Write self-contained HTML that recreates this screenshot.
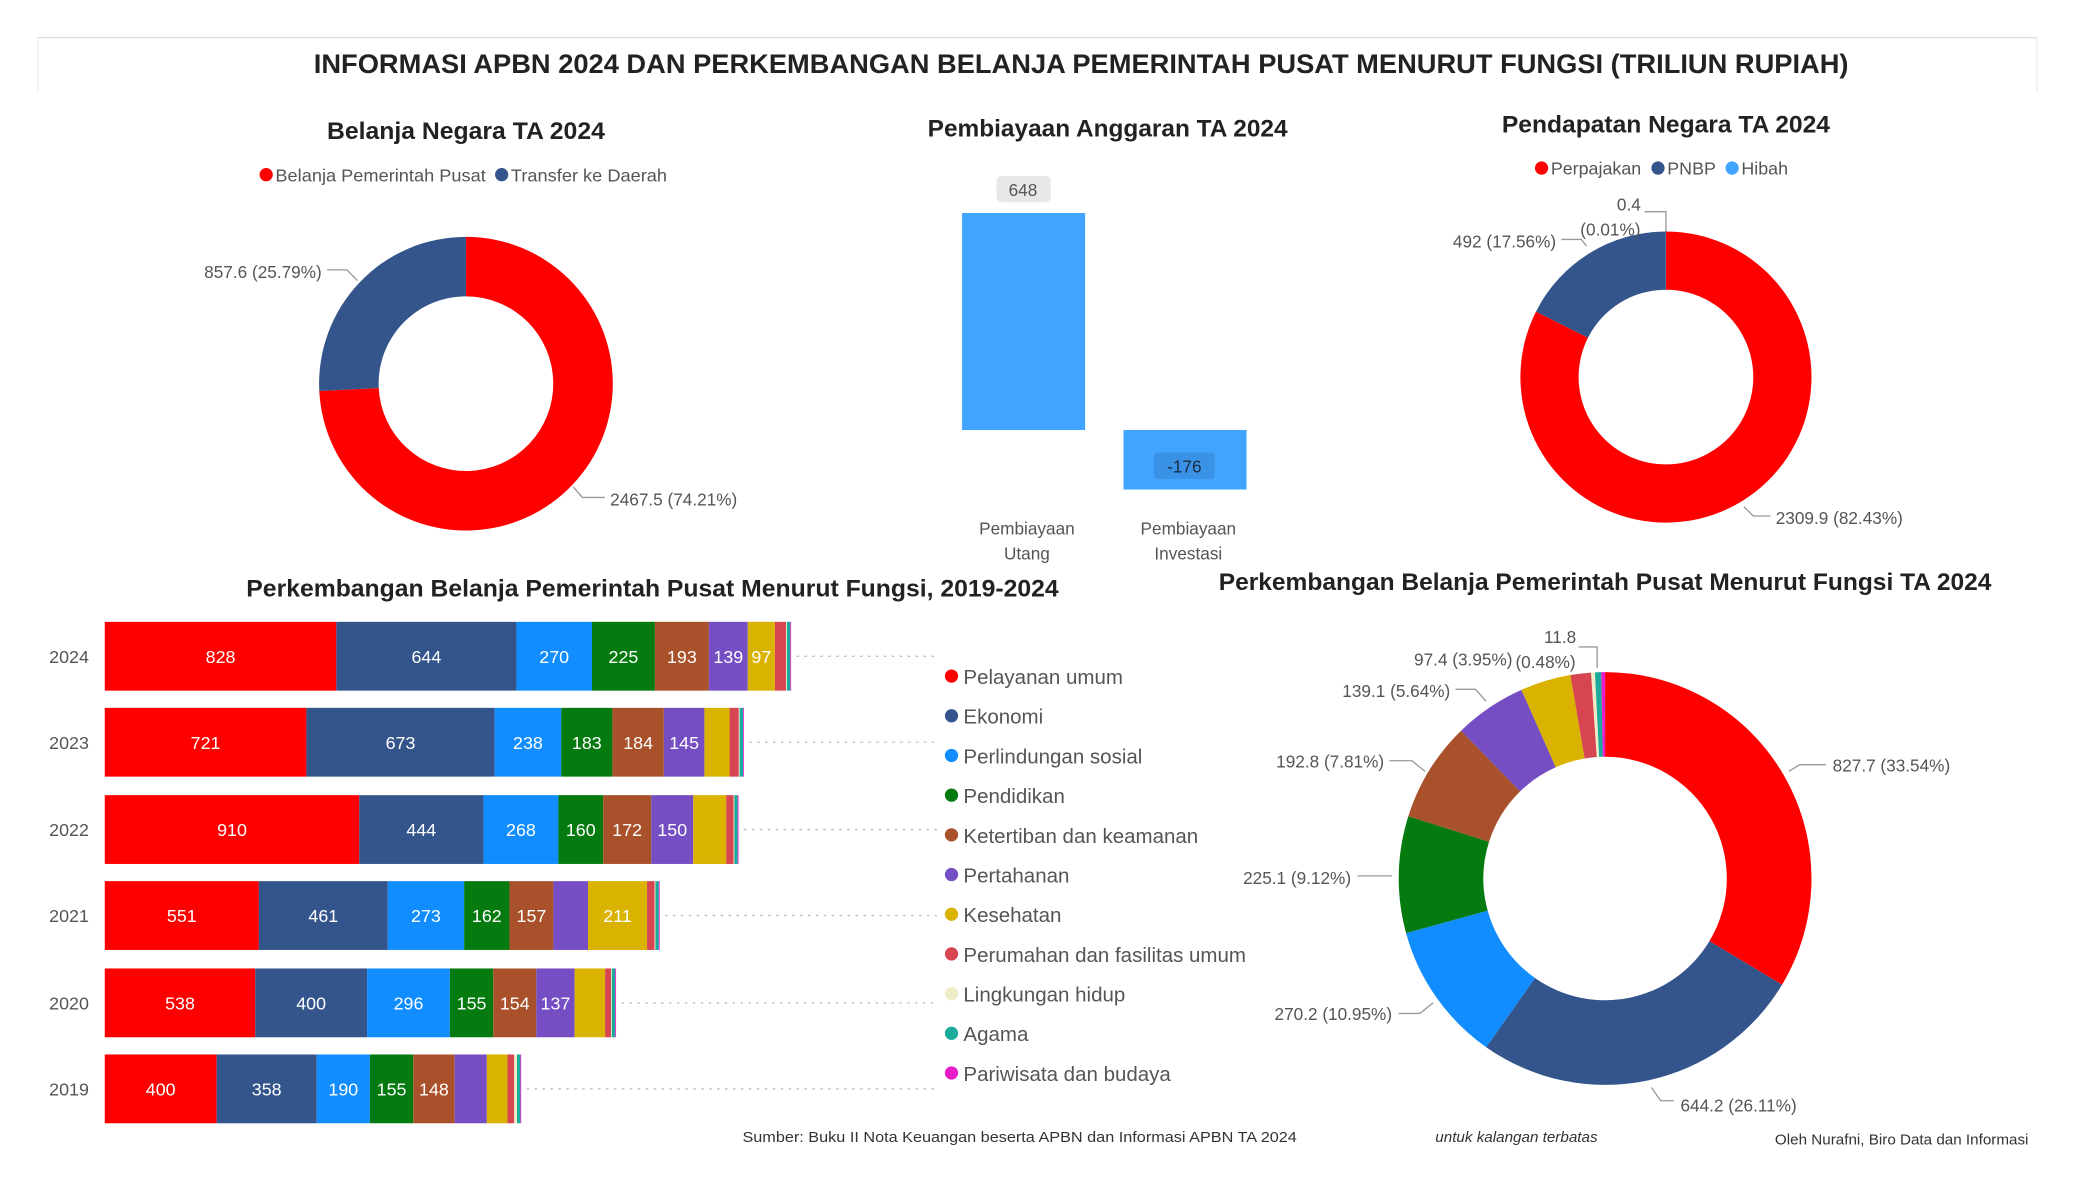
<!DOCTYPE html>
<html><head><meta charset="utf-8"><style>
html,body{margin:0;padding:0;background:#fff;}
svg{display:block;}
text{font-family:"Liberation Sans Narrow","Liberation Sans",sans-serif;}
.t{font-weight:bold;fill:#222;}
.g{fill:#555;}
</style></head><body>
<svg id="s" width="2075" height="1200" viewBox="0 0 1568 907" xmlns="http://www.w3.org/2000/svg">
<line x1="28" y1="28.5" x2="1540" y2="28.5" stroke="#ddd"/>
<line x1="28.5" y1="28" x2="28.5" y2="70" stroke="#eee"/>
<line x1="1539.5" y1="28" x2="1539.5" y2="70" stroke="#eee"/>
<text class="t" x="817" y="55" text-anchor="middle" font-size="20" textLength="1160" lengthAdjust="spacingAndGlyphs">INFORMASI APBN 2024 DAN PERKEMBANGAN BELANJA PEMERINTAH PUSAT MENURUT FUNGSI (TRILIUN RUPIAH)</text>

<text class="t" x="352" y="105" text-anchor="middle" font-size="18" textLength="210" lengthAdjust="spacingAndGlyphs">Belanja Negara TA 2024</text>
<circle cx="201" cy="132" r="5" fill="#f00"/><text class="g" x="208" y="137" font-size="13.5" textLength="159" lengthAdjust="spacingAndGlyphs">Belanja Pemerintah Pusat</text>
<circle cx="379" cy="132" r="5" fill="#34558b"/><text class="g" x="386" y="137" font-size="13.5" textLength="118" lengthAdjust="spacingAndGlyphs">Transfer ke Daerah</text>
<g id="d1"></g>
<polyline points="247,204 262,204 270,212" fill="none" stroke="#999"/>
<text class="g" x="243" y="210" text-anchor="end" font-size="13">857.6 (25.79%)</text>
<polyline points="433,368 440,376 457,376" fill="none" stroke="#999"/>
<text class="g" x="461" y="382" font-size="13">2467.5 (74.21%)</text>

<text class="t" x="837" y="103" text-anchor="middle" font-size="18" textLength="272" lengthAdjust="spacingAndGlyphs">Pembiayaan Anggaran TA 2024</text>
<rect x="753" y="133" width="41" height="20" rx="4" fill="#e8e8e8"/>
<text class="g" x="773" y="148" text-anchor="middle" font-size="13">648</text>
<rect x="727" y="161" width="93" height="164" fill="#41a4ff"/>
<rect x="849" y="325" width="93" height="45" fill="#41a4ff"/>
<rect x="872" y="342" width="46" height="20" rx="3" fill="#3a92e6"/>
<text x="895" y="357" text-anchor="middle" font-size="13" fill="#1a2a40">-176</text>
<text class="g" x="776" y="404" text-anchor="middle" font-size="13">Pembiayaan</text>
<text class="g" x="776" y="423" text-anchor="middle" font-size="13">Utang</text>
<text class="g" x="898" y="404" text-anchor="middle" font-size="13">Pembiayaan</text>
<text class="g" x="898" y="423" text-anchor="middle" font-size="13">Investasi</text>

<text class="t" x="1259" y="100" text-anchor="middle" font-size="18" textLength="248" lengthAdjust="spacingAndGlyphs">Pendapatan Negara TA 2024</text>
<circle cx="1165" cy="127" r="5" fill="#f00"/><text class="g" x="1172" y="132" font-size="13.5">Perpajakan</text>
<circle cx="1253" cy="127" r="5" fill="#34558b"/><text class="g" x="1260" y="132" font-size="13.5">PNBP</text>
<circle cx="1309" cy="127" r="5" fill="#41a4ff"/><text class="g" x="1316" y="132" font-size="13.5">Hibah</text>
<g id="d3"></g>
<polyline points="1243,160 1259,160 1259,175" fill="none" stroke="#999"/>
<text class="g" x="1231" y="159" text-anchor="middle" font-size="13">0.4</text>
<text class="g" x="1217" y="178" text-anchor="middle" font-size="13">(0.01%)</text>
<polyline points="1180,181 1195,181 1199,186" fill="none" stroke="#999"/>
<text class="g" x="1176" y="187" text-anchor="end" font-size="13">492 (17.56%)</text>
<polyline points="1318,383 1325,390 1338,390" fill="none" stroke="#999"/>
<text class="g" x="1342" y="396" font-size="13">2309.9 (82.43%)</text>

<text class="t" x="493" y="451" text-anchor="middle" font-size="18" textLength="614" lengthAdjust="spacingAndGlyphs">Perkembangan Belanja Pemerintah Pusat Menurut Fungsi, 2019-2024</text>
<g id="bars"></g>
<g id="leg"></g>

<text class="t" x="1213" y="446" text-anchor="middle" font-size="18" textLength="584" lengthAdjust="spacingAndGlyphs">Perkembangan Belanja Pemerintah Pusat Menurut Fungsi TA 2024</text>
<g id="d4"></g>
<g fill="none" stroke="#999">
<polyline points="1352,583 1360,578 1380,578"/>
<polyline points="1248,822 1255,832 1265,832"/>
<polyline points="1057,766 1073,766 1083,758"/>
<polyline points="1026,662 1052,662"/>
<polyline points="1050,575 1067,575 1077,583"/>
<polyline points="1100,521 1115,521 1123,530"/>
<polyline points="1193,489 1207,489 1207,505"/>
</g>
<g font-size="13">
<text x="1385" y="583" class="g">827.7 (33.54%)</text>
<text x="1270" y="840" class="g">644.2 (26.11%)</text>
<text x="1052" y="771" text-anchor="end" class="g">270.2 (10.95%)</text>
<text x="1021" y="668" text-anchor="end" class="g">225.1 (9.12%)</text>
<text x="1046" y="580" text-anchor="end" class="g">192.8 (7.81%)</text>
<text x="1096" y="527" text-anchor="end" class="g">139.1 (5.64%)</text>
<text x="1143" y="503" text-anchor="end" class="g">97.4 (3.95%)</text>
<text x="1168" y="505" text-anchor="middle" class="g">(0.48%)</text>
<text x="1179" y="486" text-anchor="middle" class="g">11.8</text>
</g>

<text x="561" y="863" font-size="11.5" fill="#333" textLength="419" lengthAdjust="spacingAndGlyphs">Sumber: Buku II Nota Keuangan beserta APBN dan Informasi APBN TA 2024</text>
<text x="1146" y="863" font-size="11.5" fill="#333" text-anchor="middle" font-style="italic">untuk kalangan terbatas</text>
<text x="1533" y="865" font-size="11.5" fill="#333" text-anchor="end">Oleh Nurafni, Biro Data dan Informasi</text>
</svg>
<script>
var NS="http://www.w3.org/2000/svg";
function el(p,t,a){var e=document.createElementNS(NS,t);for(var k in a)e.setAttribute(k,a[k]);p.appendChild(e);return e;}
function donut(id,cx,cy,R,r,vals,cols){
 var g=document.getElementById(id),tot=vals.reduce(function(a,b){return a+b},0),a0=0;
 vals.forEach(function(v,i){
  var a1=a0+v/tot*2*Math.PI,lg=(a1-a0)>Math.PI?1:0;
  function P(rr,a){return (cx+rr*Math.sin(a)).toFixed(2)+","+(cy-rr*Math.cos(a)).toFixed(2);}
  var d="M"+P(R,a0)+"A"+R+","+R+" 0 "+lg+" 1 "+P(R,a1)+"L"+P(r,a1)+"A"+r+","+r+" 0 "+lg+" 0 "+P(r,a0)+"Z";
  el(g,"path",{d:d,fill:cols[i]});a0=a1;});
}
donut("d1",352,290,111,66,[74.21,25.79],["#ff0000","#34558b"]);
donut("d3",1259,285,110,66,[82.43,17.56,0.01],["#ff0000","#34558b","#41a4ff"]);
var C=["#ff0000","#34558b","#118dff","#057a0e","#a9512a","#744ec2","#d9b300","#d64550","#efedc8","#1aab9c","#e61dc9"];
donut("d4",1213,664,156,92,[33.54,26.11,10.95,9.12,7.81,5.64,3.95,1.6,0.3,0.48,0.3],C);
var rows=[
 ["2024",496,[828,644,270,225,193,139,97,40,3,12,3]],
 ["2023",561,[721,673,238,183,184,145,90,33,3,12,3]],
 ["2022",627,[910,444,268,160,172,150,118,26,3,12,3]],
 ["2021",692,[551,461,273,162,157,124,211,27,3,12,3]],
 ["2020",758,[538,400,296,155,154,137,109,21,3,12,3]],
 ["2019",823,[400,358,190,155,148,115,74,24,10,12,3]]];
var g=document.getElementById("bars"),k=0.2114;
rows.forEach(function(r){
 var x=79;
 el(g,"text",{x:52,y:r[1]+5,"text-anchor":"middle","font-size":"13.5",fill:"#555"}).textContent=r[0];
 r[2].forEach(function(v,i){
  var w=v*k;el(g,"rect",{x:x.toFixed(2),y:r[1]-26,width:w.toFixed(2),height:52,fill:C[i]});
  if(i<7&&v>=90&&!(r[0]=="2021"&&i==5)&&!(r[0]=="2019"&&i>=5)&&!(r[0]=="2023"&&i==6)&&!(r[0]=="2022"&&i==6)&&!(r[0]=="2020"&&i==6))
   el(g,"text",{x:(x+w/2).toFixed(2),y:r[1]+5,"text-anchor":"middle","font-size":"13.5",fill:"#fff"}).textContent=v;
  x+=w;});
 el(g,"line",{x1:x+4,y1:r[1],x2:708,y2:r[1],stroke:"#bbb","stroke-dasharray":"2,4"});
});
var L=["Pelayanan umum","Ekonomi","Perlindungan sosial","Pendidikan","Ketertiban dan keamanan","Pertahanan","Kesehatan","Perumahan dan fasilitas umum","Lingkungan hidup","Agama","Pariwisata dan budaya"];
var lg=document.getElementById("leg");
L.forEach(function(t,i){var y=511+i*30;
 el(lg,"circle",{cx:719,cy:y,r:5,fill:C[i]});
 el(lg,"text",{x:728,y:y+6,"font-size":"15.5",fill:"#555"}).textContent=t;});
</script>
</body></html>
